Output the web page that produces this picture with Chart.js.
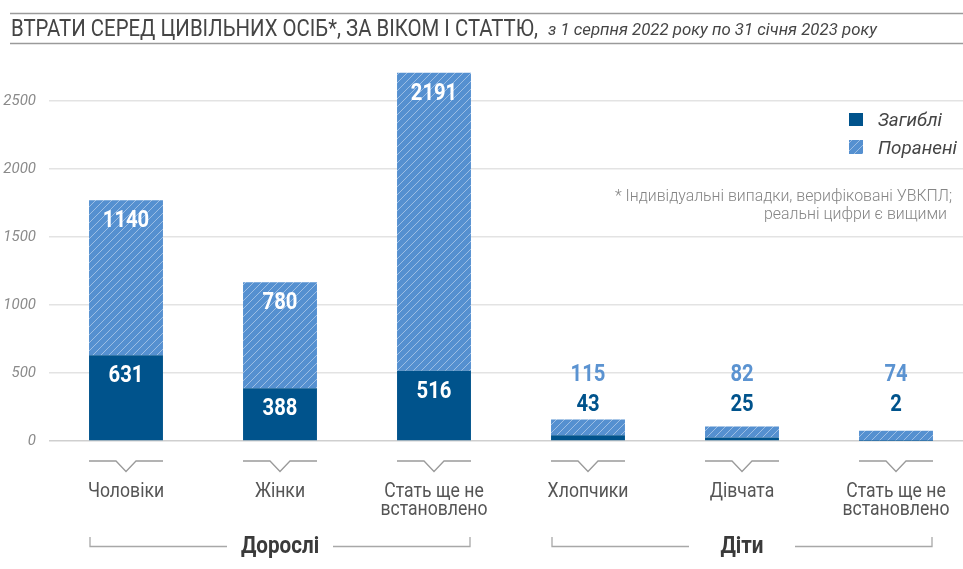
<!DOCTYPE html>
<html>
<head>
<meta charset="utf-8">
<script src="https://cdn.jsdelivr.net/npm/chart.js@4/dist/chart.umd.min.js"></script>
<style>
  html, body { margin: 0; padding: 0; background: #fff; overflow: hidden; width: 963px; height: 569px; }
  #wrap { position: absolute; left: 0; top: 0; width: 976px; height: 569px; }
</style>
</head>
<body>
<div id="wrap"><canvas id="c" width="976" height="569"></canvas></div>
<script>
// ---- data ----
const categories = [['Чоловіки'], ['Жінки'], ['Стать ще не', 'встановлено'], ['Хлопчики'], ['Дівчата'], ['Стать ще не', 'встановлено']];
const killed = [631, 388, 516, 43, 25, 2];
const injured = [1140, 780, 2191, 115, 82, 74];
const groupLabels = ['Дорослі', 'Діти'];
const groupRanges = [[0, 2], [3, 5]];
const seriesNames = ['Загиблі', 'Поранені'];
const yTickValues = [0, 500, 1000, 1500, 2000, 2500];
const titleText = 'ВТРАТИ СЕРЕД ЦИВІЛЬНИХ ОСІБ*, ЗА ВІКОМ І СТАТТЮ,';
const subtitleText = 'з 1 серпня 2022 року по 31 січня 2023 року';
const noteLines = ['* Індивідуальні випадки, верифіковані УВКПЛ;', 'реальні цифри є вищими'];
const yMax = 2750;

// ---- styles ----
const DARK = '#00538C';
const LIGHT = '#5590D0';
const LIGHT_TXT = '#5B93D1';
const FONT = 'Roboto, "Noto Sans", sans-serif';

function makeHatch() {
  const pc = document.createElement('canvas');
  pc.width = 8; pc.height = 8;
  const p = pc.getContext('2d');
  p.fillStyle = LIGHT; p.fillRect(0, 0, 8, 8);
  p.strokeStyle = 'rgba(255,255,255,0.42)'; p.lineWidth = 1;
  p.beginPath();
  p.moveTo(-1, 9); p.lineTo(9, -1);
  p.moveTo(-1, 1); p.lineTo(1, -1);
  p.moveTo(7, 9); p.lineTo(9, 7);
  p.stroke();
  return document.getElementById('c').getContext('2d').createPattern(pc, 'repeat');
}
const hatch = makeHatch();

function txt(ctx, text, x, y, font, color, align, sx, targetW) {
  ctx.save();
  ctx.font = font;
  ctx.fillStyle = color;
  ctx.textBaseline = 'alphabetic';
  const w = ctx.measureText(text).width;
  const s = targetW ? targetW / w : (sx || 1);
  ctx.translate(x, y);
  ctx.scale(s, 1);
  ctx.textAlign = align;
  ctx.fillText(text, 0, 0);
  ctx.restore();
}

const decor = {
  id: 'decor',
  afterDraw(chart) {
    const ctx = chart.ctx;
    const xs = chart.scales.x, ys = chart.scales.y;
    // header lines
    ctx.save();
    ctx.strokeStyle = '#9a9a9a'; ctx.lineWidth = 1.5;
    ctx.beginPath(); ctx.moveTo(10, 13.5); ctx.lineTo(976, 13.5); ctx.stroke();
    ctx.beginPath(); ctx.moveTo(10, 43.5); ctx.lineTo(976, 43.5); ctx.stroke();
    ctx.restore();
    txt(ctx, titleText, 11, 35.5, '400 24px ' + FONT, '#454545', 'left', 0, 527);
    txt(ctx, subtitleText, 548, 34.5, 'italic 400 17px ' + FONT, '#454545', 'left', 0, 329);

    // legend
    ctx.fillStyle = DARK; ctx.fillRect(849, 113, 14, 13);
    ctx.fillStyle = hatch; ctx.fillRect(849, 140, 14, 14);
    txt(ctx, seriesNames[0], 878, 125.5, 'italic 400 18px ' + FONT, '#454545', 'left', 0, 64);
    txt(ctx, seriesNames[1], 878, 153.5, 'italic 400 18px ' + FONT, '#454545', 'left', 0, 79);
    // note
    txt(ctx, noteLines[0], 952, 200.5, '300 17px ' + FONT, '#858585', 'right', 0, 337);
    txt(ctx, noteLines[1], 947, 218.5, '300 17px ' + FONT, '#858585', 'right', 0, 183);

    const half = 37;
    const zeroY = ys.getPixelForValue(0);
    // value labels
    const mK = chart.getDatasetMeta(0), mI = chart.getDatasetMeta(1);
    const lblFont = '700 23px ' + FONT;
    for (let i = 0; i < categories.length; i++) {
      const cx = xs.getPixelForValue(i);
      const total = killed[i] + injured[i];
      if (total > 500) {
        const kt = mK.data[i].y, it = mI.data[i].y;
        txt(ctx, String(injured[i]), cx, it + 19 + 8.2, lblFont, '#ffffff', 'center', 0.88);
        txt(ctx, String(killed[i]), cx, kt + 18.5 + 8.2, lblFont, '#ffffff', 'center', 0.88);
      } else {
        txt(ctx, String(injured[i]), cx, zeroY - 68.7 + 8.2, lblFont, LIGHT_TXT, 'center', 0.88);
        txt(ctx, String(killed[i]), cx, zeroY - 38.7 + 8.2, lblFont, DARK, 'center', 0.88);
      }
      // category bracket
      ctx.save();
      ctx.strokeStyle = '#9a9a9a'; ctx.lineWidth = 1.3;
      ctx.beginPath();
      ctx.moveTo(cx - half, 461); ctx.lineTo(cx - 10, 461); ctx.lineTo(cx, 471.5);
      ctx.lineTo(cx + 10, 461); ctx.lineTo(cx + half, 461);
      ctx.stroke();
      ctx.restore();
      const lines = categories[i];
      lines.forEach((ln, k) => {
        txt(ctx, ln, cx, 497 + k * 17.5, '400 20px ' + FONT, '#555555', 'center', 0.88);
      });
    }
    // group brackets
    groupLabels.forEach((g, gi) => {
      const [a, b] = groupRanges[gi];
      const x0 = xs.getPixelForValue(a) - half + 1;
      const x1 = xs.getPixelForValue(b) + half - 1;
      const mid = xs.getPixelForValue((a + b) / 2);
      ctx.save();
      ctx.strokeStyle = '#a8a8a8'; ctx.lineWidth = 1.3;
      ctx.beginPath();
      ctx.moveTo(x0, 537); ctx.lineTo(x0, 546.5); ctx.lineTo(mid - 53, 546.5);
      ctx.moveTo(mid + 53, 546.5); ctx.lineTo(x1, 546.5); ctx.lineTo(x1, 537);
      ctx.stroke();
      ctx.restore();
      txt(ctx, g, mid, 553, '700 24px ' + FONT, '#3a3a3a', 'center', 0.86);
    });
  }
};

new Chart(document.getElementById('c'), {
  type: 'bar',
  data: {
    labels: categories,
    datasets: [
      { label: seriesNames[0], data: killed, backgroundColor: DARK, borderWidth: 0 },
      { label: seriesNames[1], data: injured, backgroundColor: hatch, borderWidth: 0 }
    ]
  },
  options: {
    responsive: false,
    animation: false,
    devicePixelRatio: 1,
    layout: { padding: { top: 67, bottom: 128, left: 0, right: 3 } },
    datasets: { bar: { categoryPercentage: 0.48, barPercentage: 1 } },
    plugins: { legend: { display: false }, tooltip: { enabled: false }, title: { display: false } },
    scales: {
      x: { display: false, stacked: true },
      y: {
        stacked: true,
        min: 0, max: yMax,
        border: { display: false },
        grid: {
          drawTicks: false,
          color: (c) => c.tick && c.tick.value === 0 ? '#cfcfcf' : '#e3e3e3',
          lineWidth: 1.6
        },
        ticks: {
          padding: 13,
          color: '#8a8a8a',
          font: { family: FONT, size: 15, style: 'italic' },
          callback: (v) => String(v)
        },
        afterBuildTicks: (s) => { s.ticks = yTickValues.map(v => ({ value: v })); },
        afterFit: (s) => { s.width = 49; }
      }
    }
  },
  plugins: [decor]
});
</script>
</body>
</html>
